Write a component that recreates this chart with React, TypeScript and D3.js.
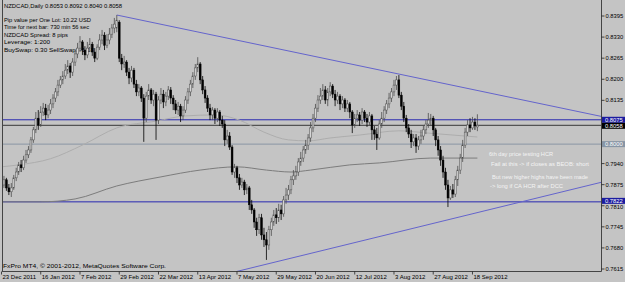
import React from 'react';
import * as d3 from 'd3';

const W = 625;
const H = 282;

const dateLabels = ["23 Dec 2011","16 Jan 2012","7 Feb 2012","29 Feb 2012","22 Mar 2012","13 Apr 2012","7 May 2012","29 May 2012","20 Jun 2012","12 Jul 2012","3 Aug 2012","27 Aug 2012","18 Sep 2012"];
const dateBars = [0,16,32,48,64,80,96,112,128,144,160,176,192];
const priceTicks = [0.8395,0.8330,0.8265,0.8200,0.8135,0.7940,0.7875,0.7810,0.7745,0.7680,0.7615];

const opens = [0.7859,0.7874,0.7890,0.7865,0.7853,0.7865,0.7896,0.7914,0.7936,0.7927,
0.7951,0.7967,0.7982,0.8013,0.8044,0.8080,0.8059,0.8099,0.8111,0.8090,
0.8105,0.8124,0.8142,0.8161,0.8182,0.8198,0.8210,0.8228,0.8241,0.8222,
0.8253,0.8278,0.8296,0.8315,0.8290,0.8275,0.8296,0.8308,0.8284,0.8265,
0.8299,0.8321,0.8336,0.8305,0.8321,0.8339,0.8358,0.8358,0.8376,0.8265,
0.8247,0.8253,0.8222,0.8204,0.8228,0.8185,0.8161,0.8173,0.8142,0.8080,
0.8148,0.8167,0.8136,0.8154,0.8074,0.8136,0.8154,0.8130,0.8148,0.8167,
0.8142,0.8124,0.8105,0.8117,0.8087,0.8105,0.8136,0.8161,0.8185,0.8210,
0.8235,0.8247,0.8198,0.8167,0.8142,0.8111,0.8090,0.8105,0.8080,0.8099,
0.8074,0.8062,0.8013,0.8025,0.7991,0.7914,0.7927,0.7896,0.7874,0.7883,
0.7859,0.7865,0.7813,0.7797,0.7760,0.7736,0.7773,0.7720,0.7705,0.7689,
0.7736,0.7760,0.7782,0.7773,0.7797,0.7785,0.7828,0.7843,0.7859,0.7890,
0.7902,0.7914,0.7945,0.7957,0.7982,0.7997,0.8019,0.8050,0.8080,0.8111,
0.8136,0.8148,0.8167,0.8136,0.8161,0.8179,0.8154,0.8136,0.8148,0.8124,
0.8136,0.8111,0.8124,0.8099,0.8059,0.8080,0.8090,0.8074,0.8099,0.8080,
0.8068,0.8087,0.8044,0.8031,0.8019,0.8062,0.8080,0.8105,0.8124,0.8142,
0.8161,0.8182,0.8198,0.8151,0.8117,0.8080,0.8050,0.8031,0.8007,0.8019,
0.7994,0.8013,0.8025,0.8044,0.8062,0.8074,0.8080,0.8044,0.8013,0.7982,
0.7951,0.7914,0.7874,0.7834,0.7859,0.7846,0.7890,0.7920,0.7957,0.7997,
0.8037,0.8059,0.8050,0.8068,0.8053];

const highs = [0.7890,0.7902,0.7896,0.7877,0.7880,0.7905,0.7927,0.7945,0.7951,0.7964,
0.7982,0.7994,0.8022,0.8053,0.8099,0.8105,0.8117,0.8127,0.8124,0.8121,
0.8139,0.8154,0.8173,0.8198,0.8210,0.8225,0.8247,0.8259,0.8250,0.8265,
0.8290,0.8312,0.8333,0.8321,0.8302,0.8315,0.8327,0.8315,0.8296,0.8308,
0.8339,0.8352,0.8345,0.8339,0.8358,0.8370,0.8389,0.8398,0.8382,0.8278,
0.8272,0.8259,0.8235,0.8241,0.8235,0.8198,0.8185,0.8179,0.8154,0.8161,
0.8185,0.8173,0.8167,0.8161,0.8148,0.8173,0.8167,0.8161,0.8179,0.8176,
0.8151,0.8136,0.8130,0.8124,0.8117,0.8148,0.8173,0.8198,0.8222,0.8247,
0.8268,0.8253,0.8210,0.8179,0.8151,0.8124,0.8114,0.8111,0.8111,0.8105,
0.8087,0.8074,0.8044,0.8037,0.7997,0.7939,0.7933,0.7908,0.7896,0.7890,
0.7877,0.7871,0.7828,0.7803,0.7773,0.7785,0.7785,0.7742,0.7729,0.7748,
0.7773,0.7797,0.7803,0.7816,0.7813,0.7840,0.7865,0.7874,0.7902,0.7920,
0.7933,0.7957,0.7976,0.7994,0.8013,0.8031,0.8068,0.8093,0.8124,0.8151,
0.8173,0.8185,0.8179,0.8173,0.8191,0.8185,0.8167,0.8161,0.8154,0.8148,
0.8142,0.8136,0.8130,0.8105,0.8093,0.8105,0.8099,0.8111,0.8105,0.8093,
0.8099,0.8093,0.8056,0.8050,0.8074,0.8099,0.8117,0.8136,0.8158,0.8173,
0.8198,0.8210,0.8213,0.8161,0.8130,0.8090,0.8062,0.8044,0.8031,0.8031,
0.8025,0.8044,0.8056,0.8074,0.8096,0.8093,0.8087,0.8050,0.8025,0.7994,
0.7964,0.7927,0.7890,0.7871,0.7877,0.7902,0.7933,0.7970,0.8013,0.8050,
0.8074,0.8080,0.8084,0.8080,0.8092];

const lows = [0.7849,0.7865,0.7856,0.7843,0.7837,0.7859,0.7886,0.7905,0.7914,0.7920,
0.7942,0.7957,0.7973,0.8004,0.8034,0.8044,0.8053,0.8087,0.8074,0.8080,
0.8093,0.8111,0.8130,0.8148,0.8173,0.8185,0.8201,0.8216,0.8204,0.8210,
0.8241,0.8265,0.8284,0.8275,0.8259,0.8265,0.8284,0.8272,0.8253,0.8259,
0.8290,0.8308,0.8290,0.8296,0.8308,0.8327,0.8342,0.8345,0.8253,0.8228,
0.8235,0.8210,0.8185,0.8191,0.8173,0.8148,0.8148,0.8130,0.8007,0.8068,
0.8136,0.8124,0.8117,0.8013,0.8062,0.8124,0.8111,0.8117,0.8136,0.8124,
0.8105,0.8093,0.8090,0.8068,0.8074,0.8096,0.8124,0.8148,0.8173,0.8198,
0.8222,0.8185,0.8154,0.8127,0.8099,0.8074,0.8074,0.8062,0.8068,0.8056,
0.8050,0.7994,0.8001,0.7982,0.7905,0.7896,0.7880,0.7859,0.7865,0.7843,
0.7846,0.7797,0.7785,0.7742,0.7717,0.7723,0.7705,0.7683,0.7643,0.7674,
0.7717,0.7748,0.7754,0.7760,0.7766,0.7776,0.7816,0.7828,0.7846,0.7874,
0.7890,0.7902,0.7933,0.7945,0.7970,0.7982,0.8007,0.8037,0.8068,0.8099,
0.8124,0.8136,0.8124,0.8117,0.8148,0.8142,0.8117,0.8124,0.8105,0.8111,
0.8099,0.8099,0.8080,0.8034,0.8050,0.8068,0.8056,0.8062,0.8068,0.8053,
0.8056,0.8013,0.8013,0.7982,0.8013,0.8050,0.8068,0.8093,0.8111,0.8130,
0.8148,0.8167,0.8142,0.8105,0.8068,0.8037,0.8019,0.7988,0.7994,0.7973,
0.7982,0.8001,0.8013,0.8031,0.8050,0.8056,0.8025,0.7994,0.7964,0.7933,
0.7896,0.7859,0.7806,0.7828,0.7834,0.7837,0.7871,0.7908,0.7945,0.7988,
0.8025,0.8037,0.8044,0.8044,0.8040];

const closes = [0.7874,0.7890,0.7865,0.7853,0.7865,0.7896,0.7914,0.7936,0.7927,0.7951,
0.7967,0.7982,0.8013,0.8044,0.8080,0.8059,0.8099,0.8111,0.8090,0.8105,
0.8124,0.8142,0.8161,0.8182,0.8198,0.8210,0.8228,0.8241,0.8222,0.8253,
0.8278,0.8296,0.8315,0.8290,0.8275,0.8296,0.8308,0.8284,0.8265,0.8299,
0.8321,0.8336,0.8305,0.8321,0.8339,0.8358,0.8370,0.8382,0.8265,0.8247,
0.8253,0.8222,0.8204,0.8228,0.8185,0.8161,0.8173,0.8142,0.8080,0.8148,
0.8167,0.8136,0.8154,0.8074,0.8136,0.8154,0.8130,0.8148,0.8167,0.8142,
0.8124,0.8105,0.8117,0.8087,0.8105,0.8136,0.8161,0.8185,0.8210,0.8235,
0.8247,0.8198,0.8167,0.8142,0.8111,0.8090,0.8105,0.8080,0.8099,0.8074,
0.8062,0.8013,0.8025,0.7991,0.7914,0.7927,0.7896,0.7874,0.7883,0.7859,
0.7865,0.7813,0.7797,0.7760,0.7736,0.7773,0.7720,0.7705,0.7689,0.7736,
0.7760,0.7782,0.7773,0.7797,0.7785,0.7828,0.7843,0.7859,0.7890,0.7902,
0.7914,0.7945,0.7957,0.7982,0.7997,0.8019,0.8050,0.8080,0.8111,0.8136,
0.8148,0.8167,0.8136,0.8161,0.8179,0.8154,0.8136,0.8148,0.8124,0.8136,
0.8111,0.8124,0.8099,0.8059,0.8080,0.8090,0.8074,0.8099,0.8080,0.8068,
0.8087,0.8044,0.8031,0.8019,0.8062,0.8080,0.8105,0.8124,0.8142,0.8161,
0.8182,0.8198,0.8151,0.8117,0.8080,0.8050,0.8031,0.8007,0.8019,0.7994,
0.8013,0.8025,0.8044,0.8062,0.8074,0.8080,0.8044,0.8013,0.7982,0.7951,
0.7914,0.7874,0.7834,0.7859,0.7846,0.7890,0.7920,0.7957,0.7997,0.8037,
0.8059,0.8050,0.8068,0.8056,0.8058];

const maFastBars = [0,7,20,33,47,63,75,87,97,107,117,125,134,146,162,174,194];
const maFastVals = [0.7930,0.7936,0.7955,0.7997,0.8050,0.8071,0.8087,0.8090,0.8074,0.8037,0.8013,0.8010,0.8019,0.8028,0.8041,0.8034,0.8022];
const maSlowBars = [0,16,30,47,65,81,96,108,118,126,142,154,175,194];
const maSlowVals = [0.7822,0.7822,0.7831,0.7871,0.7899,0.7920,0.7930,0.7920,0.7914,0.7920,0.7936,0.7942,0.7957,0.7957];

const trendUpperBars = [47, 162];
const trendUpperPrices = [0.8398, 0.8216];
const trendLowerBars = [100, 240];
const trendLowerPrices = [0.7615, 0.7874];

const blueLevels = [0.8075, 0.7822];
const greyLevel = 0.8000;
const bidPrice = 0.8058;

const headerLines = [
  "Pip value per One Lot: 10.22 USD",
  "Time for next bar: 730 min 56 sec",
  "NZDCAD Spread:  8 pips",
  "Leverage:  1:200",
  "BuySwap:  0.30   SellSwap: -1.18",
];
const headerWidths = [87, 85, 64, 46, 90];
const notes = [
  "6th day price testing HCR",
  "Fail at this -> if closes as BEOB: short",
  "But new higher highs have been made",
  "-> long if CA HCR after DCC",
];
const noteWidths = [64, 98, 96, 73];

const FONT = "'Liberation Sans', Arial, sans-serif";
const BG = '#c4c4c4';

export default function App() {
  const x = d3.scaleLinear().domain([0, 244]).range([1.5, 1.5 + 244 * 2.453]);
  const y = d3.scaleLinear().domain([0.7615, 0.8395]).range([269, 16]);
  const L = 2, R = 601.5, T = 0.5, B = 271.5;

  const mkLine = (bars: number[], vals: number[]) =>
    d3.line<number>()
      .x((b) => x(b))
      .y((_, i) => y(vals[i]))
      .curve(d3.curveMonotoneX)(bars) || '';

  const trendPath = (bars: number[], prices: number[], fromBar: number, toBar: number) => {
    const s = (prices[1] - prices[0]) / (bars[1] - bars[0]);
    const f = (b: number) => prices[0] + s * (b - bars[0]);
    return { x1: x(fromBar), y1: y(f(fromBar)), x2: x(toBar), y2: y(f(toBar)) };
  };
  const tu = trendPath(trendUpperBars, trendUpperPrices, trendUpperBars[0], 250);
  const tl = trendPath(trendLowerBars, trendLowerPrices, 80, 250);

  const BOX_H = 6;
  const topBlue = y(blueLevels[0]) - BOX_H / 2;
  const topBid = Math.max(y(bidPrice) - BOX_H / 2, topBlue + BOX_H);
  const topGrey = y(greyLevel) - BOX_H / 2;
  const topBlue2 = y(blueLevels[1]) - BOX_H / 2 - 1;

  const priceBox = (v: number, top: number, fill: string, key: string) => (
    <g key={key}>
      <rect x={602} y={top} width={23} height={BOX_H} fill={fill} />
      <text x={605} y={top + 5} fontSize={5.8} fill="#ffffff" fontFamily={FONT}>{v.toFixed(4)}</text>
    </g>
  );

  return (
    <svg width={W} height={H} style={{ position: 'absolute', left: 0, top: 0 }} xmlns="http://www.w3.org/2000/svg">
      <defs>
        <clipPath id="plot"><rect x={L} y={T} width={R - L} height={B - T} /></clipPath>
      </defs>
      <rect x={0} y={0} width={W} height={H} fill={BG} />

      <g clipPath="url(#plot)">
        <text x={4} y={8} fontSize={6} fontFamily={FONT} fill="#000" textLength={118} lengthAdjust="spacingAndGlyphs">
          {`NZDCAD,Daily  ${opens[194].toFixed(4)} ${highs[194].toFixed(4)} ${lows[194].toFixed(4)} ${closes[194].toFixed(4)}`}
        </text>
        {headerLines.map((t, i) => (
          <text key={t} x={4} y={22 + i * 7.4} fontSize={6} fontFamily={FONT} fill="#000" textLength={headerWidths[i]} lengthAdjust="spacingAndGlyphs">{t}</text>
        ))}
        <text x={3} y={268} fontSize={6} fontFamily={FONT} fill="#000" textLength={163} lengthAdjust="spacingAndGlyphs">FxPro MT4, © 2001-2012, MetaQuotes Software Corp.</text>

        <line x1={L} x2={R} y1={y(greyLevel)} y2={y(greyLevel)} stroke="#8a96a4" strokeWidth={1} />
        <line x1={L} x2={R} y1={y(bidPrice)} y2={y(bidPrice)} stroke="#383838" strokeWidth={1} />
        {blueLevels.map((v) => (
          <line key={v} x1={L} x2={R} y1={y(v)} y2={y(v)} stroke="#2828b0" strokeWidth={1} />
        ))}

        <path d={mkLine(maFastBars, maFastVals)} fill="none" stroke="#adadad" strokeWidth={1} />
        <path d={mkLine(maSlowBars, maSlowVals)} fill="none" stroke="#7c7c7c" strokeWidth={1} />

        <line {...tu} stroke="#6464cc" strokeWidth={1} />
        <line {...tl} stroke="#6464cc" strokeWidth={1} />

        {closes.map((c, i) => {
          const o = opens[i];
          const bull = c >= o;
          const cx = x(i);
          const yt = y(Math.max(o, c));
          const yb = y(Math.min(o, c));
          const col = bull ? '#4c4c4c' : '#000000';
          return (
            <g key={i}>
              <line x1={cx} x2={cx} y1={y(highs[i])} y2={y(lows[i])} stroke={col} strokeWidth={0.8} />
              <rect x={cx - 0.9} y={yt} width={1.8} height={Math.max(0.8, yb - yt)} fill={bull ? '#d6d6d6' : '#000'} stroke={col} strokeWidth={0.5} />
            </g>
          );
        })}

        {notes.map((t, i) => (
          <text key={t} x={[489, 491, 492, 490][i]} y={[156, 166, 179, 188][i]} fontSize={6} fontFamily={FONT} fill="#f4f4f4" textLength={noteWidths[i]} lengthAdjust="spacingAndGlyphs">{t}</text>
        ))}
      </g>

      <line x1={L + 0.5} x2={L + 0.5} y1={0} y2={B} stroke="#444" strokeWidth={1} />
      <line x1={L} x2={R} y1={B} y2={B} stroke="#444" strokeWidth={1} />
      <line x1={R} x2={R} y1={0} y2={B} stroke="#444" strokeWidth={1} />

      {priceTicks.map((v) => (
        <g key={v}>
          <line x1={R} x2={604.5} y1={y(v)} y2={y(v)} stroke="#222" strokeWidth={0.8} />
          <text x={605.5} y={y(v) + (v === 0.7810 ? 3 : 2)} fontSize={5.8} fontFamily={FONT} fill="#000">{v.toFixed(4)}</text>
        </g>
      ))}
      {priceBox(blueLevels[0], topBlue, '#1c1ca0', 'b1')}
      {priceBox(bidPrice, topBid, '#000000', 'bid')}
      {priceBox(greyLevel, topGrey, '#8795a5', 'g')}
      {priceBox(blueLevels[1], topBlue2, '#1c1ca0', 'b2')}

      {dateBars.map((b, i) => (
        <g key={b}>
          <line x1={x(b)} x2={x(b)} y1={B} y2={B + 3} stroke="#222" strokeWidth={0.8} />
          <text x={x(b) + 1} y={279} fontSize={6} fontFamily={FONT} fill="#000">{dateLabels[i]}</text>
        </g>
      ))}
    </svg>
  );
}
